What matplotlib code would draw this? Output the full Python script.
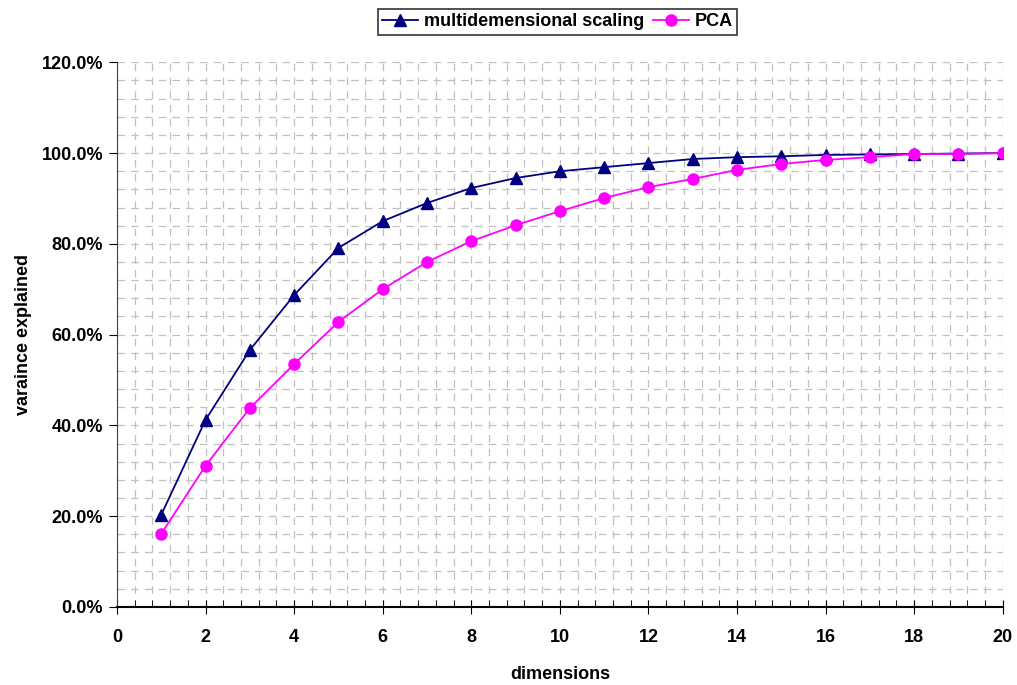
import matplotlib.pyplot as plt
from matplotlib.ticker import MultipleLocator, PercentFormatter

plt.rcParams['font.family'] = ['Liberation Sans', 'DejaVu Sans']
plt.rcParams['font.weight'] = 'bold'

dims = list(range(1, 21))
mds = [20.3, 41.2, 56.6, 68.7, 79.1, 85.0, 89.0, 92.3, 94.5, 96.0,
       96.9, 97.8, 98.7, 99.1, 99.3, 99.6, 99.7, 99.8, 99.9, 100.0]
pca = [16.1, 31.1, 43.8, 53.5, 62.8, 70.0, 76.0, 80.6, 84.1, 87.2,
       90.1, 92.5, 94.3, 96.3, 97.6, 98.5, 99.1, 99.8, 99.8, 100.0]

fig = plt.figure(figsize=(10.17, 6.85), dpi=100)
ax = fig.add_axes([0.115, 0.114, 0.871, 0.795])

ax.plot(dims, mds, color='#000080', marker='^', markersize=8, lw=1.3,
        label='multidemensional scaling')
ax.plot(dims, pca, color='#ff00ff', marker='o', markersize=8, lw=1.3,
        label='PCA')

ax.set_xlim(0, 20)
ax.set_ylim(0, 120)
ax.xaxis.set_major_locator(MultipleLocator(2))
ax.xaxis.set_minor_locator(MultipleLocator(0.4))
ax.yaxis.set_major_locator(MultipleLocator(20))
ax.yaxis.set_minor_locator(MultipleLocator(4))
ax.yaxis.set_major_formatter(PercentFormatter(decimals=1))

ax.grid(which='both', color='#c0c0c0', linestyle=(0, (6, 5)), lw=0.9)
ax.set_axisbelow(True)

for s in ['top', 'right']:
    ax.spines[s].set_visible(False)
ax.spines['left'].set_color('#404040')
ax.spines['bottom'].set_linewidth(1.5)

ax.tick_params(axis='y', which='major', direction='out', length=6, labelsize=13, pad=4)
ax.tick_params(axis='y', which='minor', length=0)
ax.tick_params(axis='x', which='major', direction='inout', length=10, labelsize=13, pad=11)
ax.tick_params(axis='x', which='minor', direction='in', length=5)

ax.set_xlabel('dimensions', fontsize=13, fontweight='bold', labelpad=14)
ax.set_ylabel('varaince explained', fontsize=13, fontweight='bold', labelpad=7)

leg = fig.legend(loc='upper center', bbox_to_anchor=(0.548, 0.995), ncol=2,
                 fontsize=13, frameon=True, fancybox=False, edgecolor='black',
                 handlelength=2.0, columnspacing=0.5, handletextpad=0.3,
                 borderpad=0.25, borderaxespad=0.3, markerscale=1.0)
leg.get_frame().set_linewidth(1.2)

fig.savefig('out.png', dpi=100)
